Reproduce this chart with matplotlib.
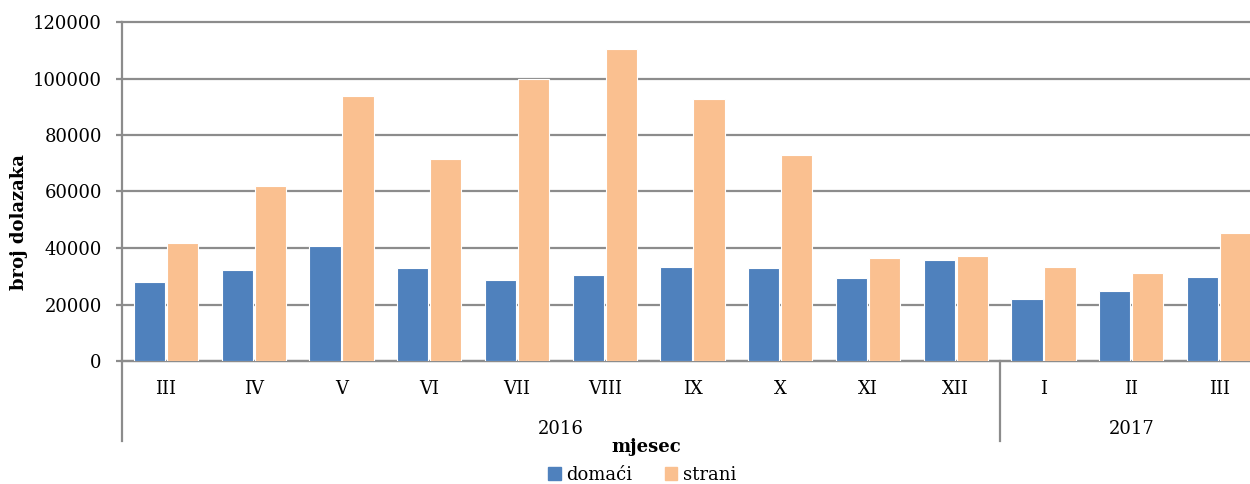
import numpy as np
import matplotlib.pyplot as plt
import matplotlib.transforms as mtransforms

plt.rcParams['font.family'] = ['DejaVu Serif']

months = ['III', 'IV', 'V', 'VI', 'VII', 'VIII', 'IX', 'X', 'XI', 'XII', 'I', 'II', 'III']
years = ['2016', '2017']
year_counts = [10, 3]
domaci = [28100, 32200, 40700, 32900, 28600, 30400, 33200, 32900, 29500, 35600, 21900, 24700, 29800]
strani = [41700, 62100, 93700, 71600, 99900, 110300, 92900, 73000, 36600, 37200, 33100, 31100, 45400]
yticks = [0, 20000, 40000, 60000, 80000, 100000, 120000]

blue = '#4f81bd'
orange = '#fac090'
grid_color = '#8c8c8c'

fig = plt.figure(figsize=(12.5, 4.84), dpi=100)
ax = fig.add_axes([122 / 1250, 123 / 484, 1141 / 1250, 339 / 484])

x = np.arange(len(months))
w = 0.355
ax.bar(x - 0.188, domaci, w, color=blue, edgecolor='white', linewidth=0.8, zorder=3)
ax.bar(x + 0.188, strani, w, color=orange, edgecolor='white', linewidth=0.8, zorder=3)

ax.set_xlim(-0.5, len(months) - 0.5)
ax.set_ylim(0, 120000)
ax.set_yticks(yticks)
ax.set_yticklabels([str(v) for v in yticks])
ax.yaxis.grid(True, color=grid_color, linewidth=1.6, zorder=0)
for gl in ax.get_ygridlines():
    gl.set_clip_on(False)
ax.set_axisbelow(True)

for name in ['top', 'right']:
    ax.spines[name].set_visible(False)
ax.spines['left'].set_color(grid_color)
ax.spines['left'].set_linewidth(1.6)
ax.spines['bottom'].set_color(grid_color)
ax.spines['bottom'].set_linewidth(1.6)

ax.tick_params(axis='y', length=4.5, width=1.6, color=grid_color, labelsize=13, pad=10)
ax.set_xticks(x)
ax.set_xticklabels(months)
ax.tick_params(axis='x', length=0, labelsize=13, pad=14)

# year grouping below the months
trans = mtransforms.blended_transform_factory(ax.transData, ax.transAxes)
edges = np.concatenate([[0], np.cumsum(year_counts)]) - 0.5
for e in edges:
    ax.plot([e, e], [0, -0.236], transform=trans, color=grid_color,
            linewidth=1.6, clip_on=False)
for i, yr in enumerate(years):
    ax.text((edges[i] + edges[i + 1]) / 2, -0.2, yr, transform=trans,
            ha='center', va='center', fontsize=13)

fig.text(646 / 1250, 1 - 447 / 484, 'mjesec', ha='center', va='center',
         fontsize=13, fontweight='bold')
fig.text(19 / 1250, 1 - 222 / 484, 'broj dolazaka', ha='center', va='center',
         rotation=90, fontsize=13, fontweight='bold')

handles = [plt.Rectangle((0, 0), 1, 1, color=blue),
           plt.Rectangle((0, 0), 1, 1, color=orange)]
fig.legend(handles, ['domaći', 'strani'], loc='center',
           bbox_to_anchor=(642 / 1250, 1 - 475 / 484), ncol=2, frameon=False,
           fontsize=13, handlelength=0.7, handleheight=0.7, handletextpad=0.3,
           columnspacing=1.8, borderpad=0)

fig.savefig('out.png', dpi=100)
